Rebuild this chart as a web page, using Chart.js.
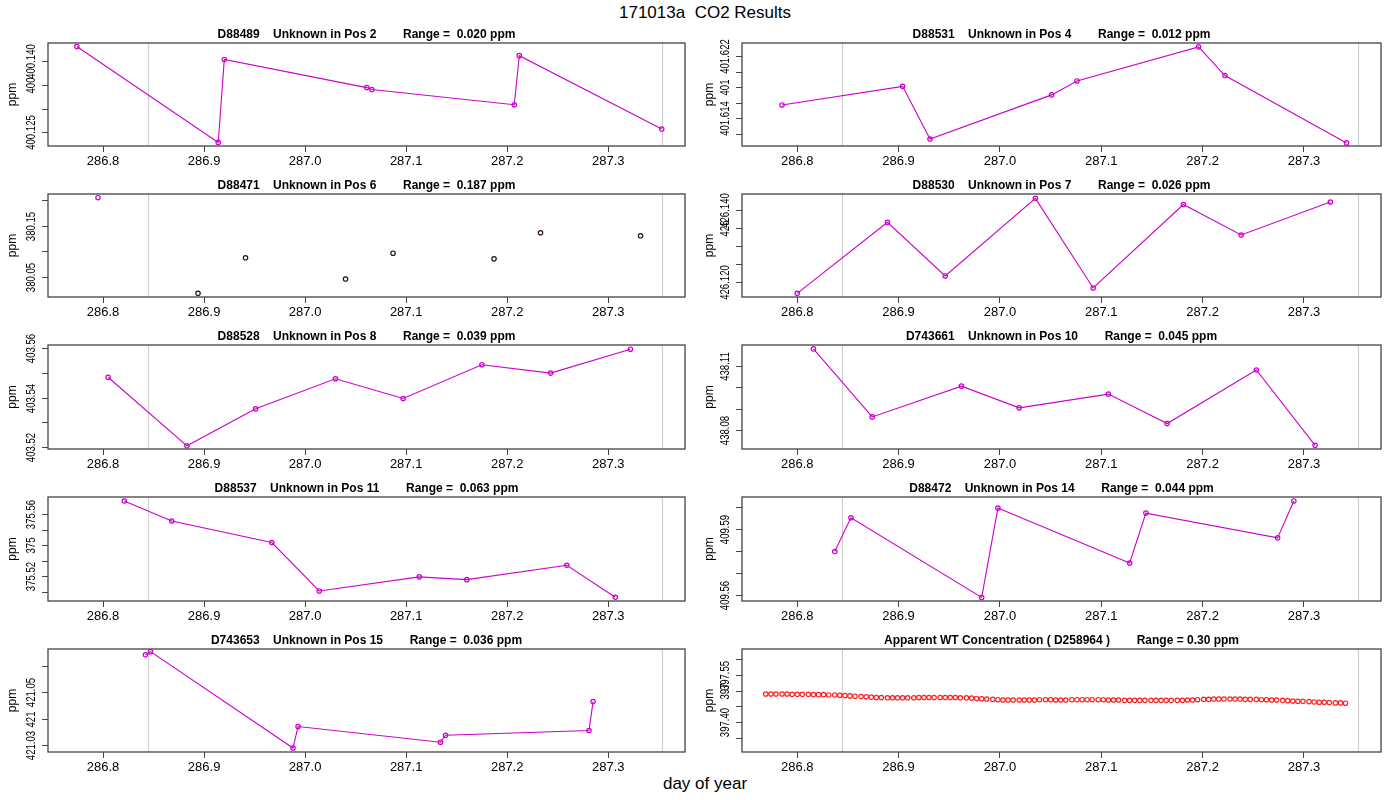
<!DOCTYPE html>
<html><head><meta charset="utf-8">
<script src="https://cdn.jsdelivr.net/npm/chart.js@4.4.0/dist/chart.umd.min.js"></script>
<style>
body{margin:0;background:#fff;width:1400px;height:800px;position:relative;overflow:hidden;font-family:"Liberation Sans",Arial,sans-serif}
canvas{position:absolute}
#t{position:absolute;top:3px;left:0;width:1410px;text-align:center;font-size:17px}
#xl{position:absolute;top:774px;left:0;width:1410px;text-align:center;font-size:17px}
</style></head><body>
<div id="t">171013a&nbsp; CO2 Results</div>
<div id="xl">day of year</div>
<script>
// ---- data ----
const titles = [
 "D88489    Unknown in Pos 2        Range =  0.020 ppm",
 "D88531    Unknown in Pos 4        Range =  0.012 ppm",
 "D88471    Unknown in Pos 6        Range =  0.187 ppm",
 "D88530    Unknown in Pos 7        Range =  0.026 ppm",
 "D88528    Unknown in Pos 8        Range =  0.039 ppm",
 "D743661    Unknown in Pos 10        Range =  0.045 ppm",
 "D88537    Unknown in Pos 11        Range =  0.063 ppm",
 "D88472    Unknown in Pos 14        Range =  0.044 ppm",
 "D743653    Unknown in Pos 15        Range =  0.036 ppm",
 "Apparent WT Concentration ( D258964 )        Range = 0.30 ppm"
];
const x1 = [286.774,286.914,286.920,287.061,287.066,287.207,287.212,287.353];
const y1 = [400.1430,400.1229,400.1403,400.1344,400.1340,400.1308,400.1411,400.1257];
const x2 = [286.785,286.904,286.931,287.051,287.076,287.196,287.222,287.342];
const y2 = [401.6157,401.6181,401.6113,401.6170,401.6188,401.6232,401.6195,401.6108];
const x3 = [286.795,286.894,286.941,287.040,287.087,287.187,287.233,287.332];
const y3 = [380.2045,380.0175,380.0870,380.0455,380.0960,380.0850,380.1360,380.1300];
const x4 = [286.800,286.889,286.946,287.035,287.092,287.181,287.238,287.326];
const y4 = [426.1169,426.1365,426.1217,426.1431,426.1184,426.1414,426.1330,426.1421];
const x5 = [286.805,286.883,286.951,287.030,287.097,287.175,287.243,287.322];
const y5 = [403.5483,403.5205,403.5355,403.5477,403.5397,403.5534,403.5500,403.5597];
const x6 = [286.816,286.874,286.962,287.019,287.107,287.165,287.253,287.311];
const y6 = [438.1178,438.0862,438.1005,438.0904,438.0968,438.0831,438.1080,438.0730];
const x7 = [286.821,286.868,286.967,287.014,287.113,287.160,287.259,287.307];
const y7 = [375.5686,375.5557,375.5418,375.5105,375.5196,375.5178,375.5271,375.5064];
const x8 = [286.837,286.853,286.982,286.998,287.128,287.144,287.274,287.290];
const y8 = [409.5797,409.5950,409.5589,409.5994,409.5745,409.5971,409.5859,409.6026];
const x9 = [286.842,286.847,286.988,286.993,287.134,287.139,287.281,287.285];
const y9 = [421.0641,421.0653,421.0290,421.0371,421.0312,421.0338,421.0356,421.0465];
const x10 = [286.769,286.774,286.779,286.785,286.790,286.795,286.800,286.805,286.811,286.816,
 286.821,286.826,286.831,286.837,286.842,286.847,286.852,286.857,286.863,286.868,
 286.873,286.878,286.883,286.889,286.894,286.899,286.904,286.909,286.915,286.920,
 286.925,286.930,286.935,286.941,286.946,286.951,286.956,286.961,286.967,286.972,
 286.977,286.982,286.987,286.993,286.998,287.003,287.008,287.013,287.019,287.024,
 287.029,287.034,287.039,287.045,287.050,287.055,287.060,287.065,287.071,287.076,
 287.081,287.086,287.091,287.097,287.102,287.107,287.112,287.117,287.123,287.128,
 287.133,287.138,287.143,287.149,287.154,287.159,287.164,287.169,287.175,287.180,
 287.185,287.190,287.195,287.201,287.206,287.211,287.216,287.221,287.227,287.232,
 287.237,287.242,287.247,287.253,287.258,287.263,287.268,287.273,287.279,287.284,
 287.289,287.294,287.299,287.305,287.310,287.315,287.320,287.325,287.331,287.336,287.341];
const y10 = [397.489,397.489,397.489,397.489,397.489,397.488,397.488,397.488,397.488,397.487,
 397.487,397.487,397.486,397.486,397.485,397.484,397.483,397.482,397.481,397.480,
 397.479,397.478,397.478,397.477,397.477,397.477,397.477,397.477,397.477,397.478,
 397.478,397.478,397.478,397.478,397.478,397.478,397.478,397.477,397.477,397.476,
 397.475,397.474,397.473,397.472,397.471,397.470,397.470,397.470,397.470,397.470,
 397.470,397.470,397.471,397.471,397.471,397.470,397.470,397.470,397.471,397.471,
 397.471,397.471,397.471,397.471,397.471,397.470,397.470,397.470,397.469,397.469,
 397.469,397.469,397.469,397.469,397.469,397.469,397.469,397.469,397.469,397.469,
 397.470,397.470,397.471,397.472,397.472,397.473,397.473,397.473,397.473,397.473,
 397.473,397.472,397.472,397.472,397.471,397.471,397.470,397.470,397.469,397.468,
 397.467,397.466,397.466,397.465,397.464,397.463,397.463,397.462,397.461,397.461,397.460];
const xTicks = [286.8,286.9,287.0,287.1,287.2,287.3];
const xLabels = ["286.8","286.9","287.0","287.1","287.2","287.3"];
const refLines = [286.8446, 287.353];
const yTickVals = [
 [400.125,400.130,400.135,400.140],
 [401.612,401.614,401.616,401.618,401.620,401.622],
 [380.05,380.10,380.15,380.20],
 [426.120,426.125,426.130,426.135,426.140],
 [403.52,403.53,403.54,403.55,403.56],
 [438.08,438.09,438.10,438.11],
 [375.51,375.52,375.53,375.54,375.55,375.56],
 [409.56,409.57,409.58,409.59,409.60],
 [421.03,421.04,421.05,421.06],
 [397.35,397.40,397.45,397.50,397.55,397.60]
];
const yTickText = [
 ["400.125","","400","400.140"],
 ["","401.614","","401","","401.622"],
 ["380.05","","380.15",""],
 ["426.120","","","426","426.140"],
 ["403.52","","403.54","","403.56"],
 ["438.08","","","438.11"],
 ["","375.52","","375","","375.56"],
 ["409.56","","","409.59",""],
 ["421.03","421","421.05",""],
 ["","397.40","","397","397.55",""]
];
const yMin = [400.12215,401.6104,380.0104,426.1159,403.5192,438.0713,375.5040,409.5573,421.0275,397.306];
const yMax = [400.14375,401.6237,380.2117,426.1443,403.5614,438.1196,375.5712,409.6044,421.0663,397.631];
const xs=[x1,x2,x3,x4,x5,x6,x7,x8,x9,x10], ys=[y1,y2,y3,y4,y5,y6,y7,y8,y9,y10];
const MAG='#CC00CC';

// ---- layout ----
const rows=[[43,146],[194,297],[345,449],[497,601],[649,752]];
const TOP=20, BOT=28;
for(let k=0;k<10;k++){
  const col=k%2, row=Math.floor(k/2);
  const left=col?700:0, boxL=col?742:48, boxR=col?1381:685;
  const [bt,bb]=rows[row];
  const cv=document.createElement('canvas');
  const H=TOP+(bb-bt)+BOT;
  cv.style.left=left+'px'; cv.style.top=(bt-TOP)+'px';
  cv.style.width='700px'; cv.style.height=H+'px';
  document.body.appendChild(cv);
  let pointColors, lineShow=true, color=MAG;
  if(k===2){ lineShow=false; pointColors=ys[k].map((v,i)=>i===0?MAG:'#2a0a2a'); }
  if(k===9){ lineShow=false; color='#FF2020'; }
  const data=xs[k].map((x,i)=>({x:x,y:ys[k][i]}));
  const deco={id:'deco'+k,
    beforeDatasetsDraw(ch){const c=ch.ctx,a=ch.chartArea,xsc=ch.scales.x;
      c.save();c.strokeStyle='#d0d0d0';c.lineWidth=1.2;
      refLines.forEach(v=>{const p=Math.round(xsc.getPixelForValue(v))+0.5;c.beginPath();c.moveTo(p,a.top);c.lineTo(p,a.bottom);c.stroke();});
      c.restore();},
    afterDraw(ch){const c=ch.ctx,a=ch.chartArea,ysc=ch.scales.y;
      c.save();c.strokeStyle='#444';c.lineWidth=1.3;c.strokeRect(a.left,a.top,a.right-a.left,a.bottom-a.top);
      c.fillStyle='#000';c.font='bold 12px "Liberation Sans Narrow","Liberation Sans",sans-serif';c.textAlign='center';c.textBaseline='alphabetic';
      c.fillText(titles[k],(a.left+a.right)/2,a.top-5);
      c.font='12px "Liberation Sans",sans-serif';c.strokeStyle='#444';c.lineWidth=1;
      yTickVals[k].forEach((v,i)=>{const p=Math.round(ysc.getPixelForValue(v))+0.5;
        c.beginPath();c.moveTo(a.left,p);c.lineTo(a.left-6,p);c.stroke();
        if(yTickText[k][i]){c.save();c.translate(a.left-10,p);c.rotate(-Math.PI/2);c.scale(0.8,1);c.textAlign='center';c.textBaseline='bottom';c.fillText(yTickText[k][i],0,0);c.restore();}});
      c.save();c.translate((col?10:13),(a.top+a.bottom)/2);c.rotate(-Math.PI/2);c.textAlign='center';c.textBaseline='middle';c.fillText('ppm',0,0);c.restore();
      c.restore();}
  };
  new Chart(cv,{type:'scatter',
    data:{datasets:[{data:data,showLine:lineShow,borderColor:color,borderWidth:1.1,
      pointStyle:'circle',pointRadius:2.2,pointBorderWidth:1.2,pointBackgroundColor:'rgba(0,0,0,0)',
      pointBorderColor:pointColors||color}]},
    options:{responsive:false,animation:false,devicePixelRatio:1,
      layout:{padding:{top:TOP,right:(col?1400:700)-boxR,left:0,bottom:0}},
      plugins:{legend:{display:false},tooltip:{enabled:false}},
      scales:{
        x:{type:'linear',min:286.7455,max:287.376,
          afterBuildTicks(s){s.ticks=xTicks.map(v=>({value:v}));},
          afterFit(s){s.height=BOT;},
          grid:{display:true,drawOnChartArea:false,drawTicks:true,tickLength:6,color:'#444',lineWidth:1},
          border:{display:false},
          ticks:{autoSkip:false,maxRotation:0,padding:2,color:'#000',font:{family:'"Liberation Sans Narrow","Liberation Sans",sans-serif',size:13},
            callback:(v)=>{const i=xTicks.findIndex(t=>Math.abs(t-v)<1e-6);return i>=0?xLabels[i]:'';}}},
        y:{type:'linear',min:yMin[k],max:yMax[k],
          afterFit(s){s.width=boxL-left;},
          grid:{display:false},border:{display:false},
          ticks:{display:false}}
      }},
    plugins:[deco]});
}
</script></body></html>
